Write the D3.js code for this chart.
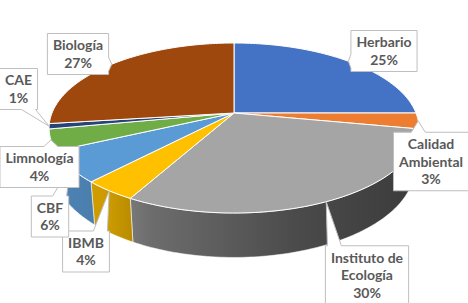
<!DOCTYPE html>
<html>
<head>
<meta charset="utf-8">
<script src="https://cdn.jsdelivr.net/npm/d3@7"></script>
<style>
  body { margin: 0; background: #ffffff; }
  svg { display: block; }
  .callout-text { font-family: Lato, "Open Sans", sans-serif; font-weight: bold; font-size: 14px; fill: #595959; }
</style>
</head>
<body>
<div id="chart"></div>
<script>
// Data ////////////////////////////////////////////////////////////////////
const categories = ['Herbario', 'Calidad Ambiental', 'Instituto de Ecología', 'IBMB',
                    'CBF', 'Limnología', 'CAE', 'Biología'];
const values = [25, 3, 30, 4, 6, 4, 1, 27];
// how each category name is broken over lines in its callout
const labelLines = [['Herbario'], ['Calidad', 'Ambiental'], ['Instituto de', 'Ecología'], ['IBMB'],
                    ['CBF'], ['Limnología'], ['CAE'], ['Biología']];
const colors = ['#4472C4', '#ED7D31', '#A5A5A5', '#FFC000', '#5B9BD5', '#70AD47', '#264478', '#9E480E'];

// Layout //////////////////////////////////////////////////////////////////
const width = 468, height = 303;
// centre of each callout text block
const calloutCenters = [[384, 51], [431, 161.5], [367, 275], [86, 251.5],
                        [50, 216.5], [39.5, 167], [18.5, 89], [78, 54]];

// 3D projection of the pie (unit radius, perspective view from above)
const cx = 234, cy = 113, F = 182;
const elev = Math.asin(0.4525);
const persp = 0.198;     // radius / camera distance
const thick = 0.245;     // slab thickness in radius units

function project(theta, level) {
  const X = Math.sin(theta), Z = -Math.cos(theta), Y = level;
  const depth = 1 - persp * (Y * Math.sin(elev) + Z * Math.cos(elev));
  return [cx + F * X / depth, cy - F * (Y * Math.cos(elev) - Z * Math.sin(elev)) / depth];
}

function arcPoints(a0, a1, level) {
  const n = Math.max(2, Math.ceil(Math.abs(a1 - a0) / 0.02));
  return d3.range(n + 1).map(i => project(a0 + (a1 - a0) * i / n, level));
}

const svg = d3.select('#chart').append('svg')
  .attr('width', width)
  .attr('height', height);

const pie = d3.pie().sort(null).value(d => d)(values);

// Wall shading: lighter on the left, darker to the right
const defs = svg.append('defs');
const shadeStops = [[40, 0.86], [110, 0.8], [150, 0.66], [300, 0.45], [420, 0.36]];
colors.forEach((c, i) => {
  const g = defs.append('linearGradient')
    .attr('id', 'wall' + i)
    .attr('gradientUnits', 'userSpaceOnUse')
    .attr('x1', 40).attr('x2', 420).attr('y1', 0).attr('y2', 0);
  shadeStops.forEach(([x, k]) => {
    const col = d3.rgb(c);
    g.append('stop')
      .attr('offset', (x - 40) / 380)
      .attr('stop-color', d3.rgb(col.r * k, col.g * k, col.b * k).formatHex());
  });
});

// Side walls (only the part facing the viewer)
const visFrom = Math.acos(-persp / Math.cos(elev));
const visTo = 2 * Math.PI - visFrom;
const line = d3.line();
pie.forEach((d, i) => {
  const a0 = Math.max(d.startAngle, visFrom), a1 = Math.min(d.endAngle, visTo);
  if (a1 <= a0) return;
  const pts = arcPoints(a0, a1, 0).concat(arcPoints(a1, a0, -thick));
  svg.append('path')
    .attr('d', line(pts) + 'Z')
    .attr('fill', `url(#wall${i})`)
    .attr('stroke', '#ffffff')
    .attr('stroke-opacity', 0.7)
    .attr('stroke-width', 0.8);
});

// Top faces
pie.forEach((d, i) => {
  const pts = [[cx, cy]].concat(arcPoints(d.startAngle, d.endAngle, 0));
  svg.append('path')
    .attr('d', line(pts) + 'Z')
    .attr('fill', colors[i])
    .attr('stroke', '#ffffff')
    .attr('stroke-width', 1)
    .attr('stroke-linejoin', 'round');
});

// Callouts
const total = d3.sum(values);
const lineH = 17.5, padX = 5.5, baseW = 14;

function calloutPath(bx, by, bw, bh, tip) {
  let side;
  if (tip[1] < by) side = 'top';
  else if (tip[1] > by + bh) side = 'bottom';
  else if (tip[0] < bx) side = 'left';
  else side = 'right';
  const clamp = (v, lo, hi) => Math.max(lo, Math.min(hi, v));
  const half = baseW / 2;
  const p = [[bx, by]];
  if (side === 'top') {
    const c = clamp(tip[0], bx + half + 2, bx + bw - half - 2);
    p.push([c - half, by], tip, [c + half, by]);
  }
  p.push([bx + bw, by]);
  if (side === 'right') {
    const c = clamp(tip[1], by + half + 2, by + bh - half - 2);
    p.push([bx + bw, c - half], tip, [bx + bw, c + half]);
  }
  p.push([bx + bw, by + bh]);
  if (side === 'bottom') {
    const c = clamp(tip[0], bx + half + 2, bx + bw - half - 2);
    p.push([c + half, by + bh], tip, [c - half, by + bh]);
  }
  p.push([bx, by + bh]);
  if (side === 'left') {
    const c = clamp(tip[1], by + half + 2, by + bh - half - 2);
    p.push([bx, c + half], tip, [bx, c - half]);
  }
  return line(p) + 'Z';
}

pie.forEach((d, i) => {
  const lines = labelLines[i].concat([Math.round(values[i] / total * 100) + '%']);
  const [mx, my] = calloutCenters[i];
  const g = svg.append('g');
  const path = g.append('path');
  const texts = g.selectAll('text')
    .data(lines)
    .enter()
    .append('text')
    .attr('class', 'callout-text')
    .attr('text-anchor', 'middle')
    .attr('x', mx)
    .attr('y', (t, k) => my + (k - (lines.length - 1) / 2) * lineH + 5)
    .text(t => t);
  const tw = d3.max(texts.nodes(), n => n.getComputedTextLength());
  const bw = tw + 2 * padX, bh = lines.length * lineH + 6;
  const tip = project((d.startAngle + d.endAngle) / 2, 0);
  path.attr('d', calloutPath(mx - bw / 2, my - bh / 2, bw, bh, tip))
    .attr('fill', '#ffffff')
    .attr('stroke', '#bfbfbf')
    .attr('stroke-width', 1);
});
</script>
</body>
</html>
